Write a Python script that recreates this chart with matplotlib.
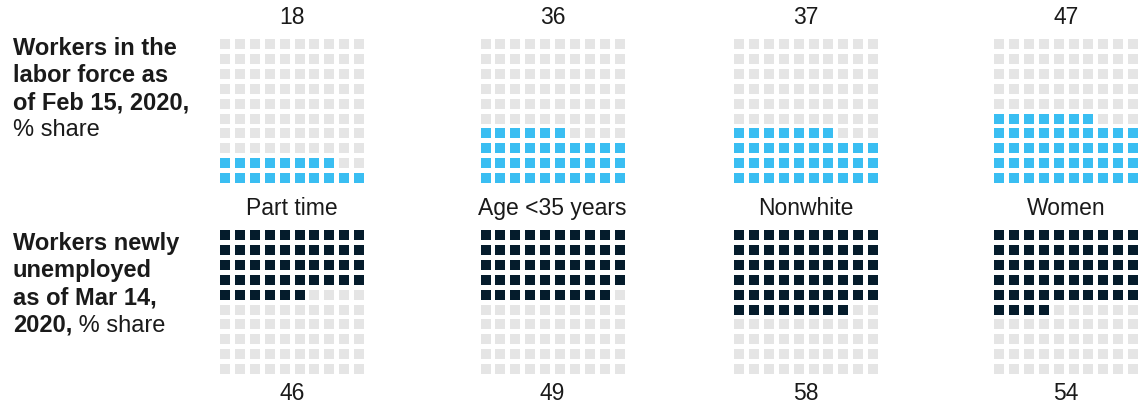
import matplotlib.pyplot as plt
from matplotlib.patches import Rectangle

plt.rcParams['font.family'] = ['Liberation Sans', 'DejaVu Sans']

categories = ['Part time', 'Age <35 years', 'Nonwhite', 'Women']
labor_force_share = [18, 36, 37, 47]
unemployed_share = [46, 49, 58, 54]

BLUE = '#3ABEF2'
NAVY = '#051C2C'
GREY = '#E5E5E5'
TEXT = '#1A1A1A'

W, H = 1147, 412
fig = plt.figure(figsize=(W / 100, H / 100), dpi=100)
ax = fig.add_axes([0, 0, 1, 1])
ax.set_xlim(0, W)
ax.set_ylim(H, 0)
ax.axis('off')

grid_left = [220, 480.5, 734, 994]
top_y0 = 39
bot_y0 = 230
pitch = 14.9
size = 10


def waffle(x0, y0, value, color, from_bottom):
    # 10x10 grid, one cell per percent, filled row by row left to right
    for k in range(100):
        row = k // 10
        col = k % 10
        r = 9 - row if from_bottom else row
        c = color if k < value else GREY
        ax.add_patch(Rectangle((x0 + col * pitch, y0 + r * pitch), size, size,
                               facecolor=c, edgecolor='none'))


for i in range(4):
    x0 = grid_left[i]
    cx = x0 + (9 * pitch + size) / 2
    waffle(x0, top_y0, labor_force_share[i], BLUE, True)
    waffle(x0, bot_y0, unemployed_share[i], NAVY, False)
    ax.text(cx, 17, str(labor_force_share[i]), ha='center', va='center',
            fontsize=16.5, color=TEXT)
    ax.text(cx, 208, categories[i], ha='center', va='center',
            fontsize=16.5, color=TEXT)
    ax.text(cx, 393, str(unemployed_share[i]), ha='center', va='center',
            fontsize=16.5, color=TEXT)

# row labels on the left
lx = 13
top_lines = ['Workers in the', 'labor force as', 'of Feb 15, 2020,']
for j, s in enumerate(top_lines):
    ax.text(lx, 55 + j * 27, s, ha='left', va='baseline', fontsize=17,
            fontweight='bold', color=TEXT)
ax.text(lx, 55 + 3 * 27, '% share', ha='left', va='baseline', fontsize=17,
        color=TEXT)

bot_lines = ['Workers newly', 'unemployed', 'as of Mar 14,']
for j, s in enumerate(bot_lines):
    ax.text(lx, 250 + j * 27.3, s, ha='left', va='baseline', fontsize=17,
            fontweight='bold', color=TEXT)
yr = ax.text(lx, 250 + 3 * 27.3, '2020,', ha='left', va='baseline',
             fontsize=17, fontweight='bold', color=TEXT)
ax.annotate(' % share', xy=(1, 0), xycoords=yr, ha='left', va='bottom',
            fontsize=17, color=TEXT)

fig.savefig('out.png', dpi=100, facecolor='white')
